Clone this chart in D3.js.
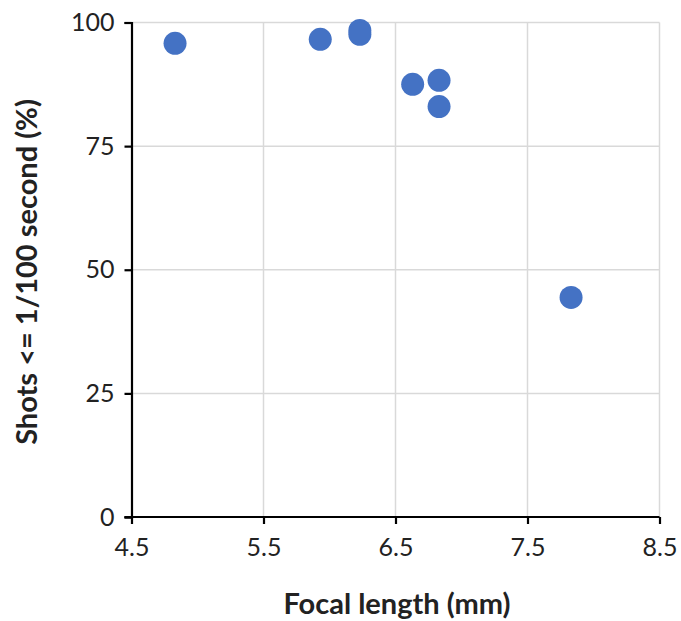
<!DOCTYPE html>
<html><head><meta charset="utf-8">
<script src="https://cdn.jsdelivr.net/npm/d3@7"></script>
<style>body{margin:0;background:#fff;} svg{display:block;}</style>
</head><body>
<script>
const focalLength = [4.83, 5.93, 6.23, 6.23, 6.63, 6.83, 6.83, 7.83];
const shotsPct   = [95.8, 96.6, 98.4, 97.6, 87.5, 88.3, 83.0, 44.4];
const xTicks = [4.5, 5.5, 6.5, 7.5, 8.5];
const yTicks = [0, 25, 50, 75, 100];
const xTitle = "Focal length (mm)";
const yTitle = "Shots <= 1/100 second (%)";

const W = 681, H = 621;
const m = {left:131.5, right:W-659.5, top:22.5, bottom:H-517};
const font = "Lato, 'Open Sans', sans-serif";

const svg = d3.select("body").append("svg").attr("width", W).attr("height", H);
const x = d3.scaleLinear().domain([4.5, 8.5]).range([m.left, W-m.right]);
const y = d3.scaleLinear().domain([0, 100]).range([H-m.bottom, m.top]);

// gridlines
svg.append("g").selectAll("line").data(yTicks.filter(d=>d>0)).join("line")
  .attr("x1", x(4.5)).attr("x2", x(8.5)).attr("y1", d=>y(d)).attr("y2", d=>y(d))
  .attr("stroke", "#d9d9d9").attr("stroke-width", 1.5);
svg.append("g").selectAll("line").data(xTicks.filter(d=>d>4.5)).join("line")
  .attr("y1", y(0)).attr("y2", y(100)).attr("x1", d=>x(d)).attr("x2", d=>x(d))
  .attr("stroke", "#d9d9d9").attr("stroke-width", 1.5);

// axes
const xAxis = svg.append("g").attr("transform", `translate(0,${y(0)})`)
  .call(d3.axisBottom(x).tickValues(xTicks).tickFormat(d3.format(".1f")).tickSizeOuter(0).tickSize(7).tickPadding(14));
const yAxis = svg.append("g").attr("transform", `translate(${x(4.5)},0)`)
  .call(d3.axisLeft(y).tickValues(yTicks).tickSizeOuter(0).tickSize(7).tickPadding(10));
[xAxis, yAxis].forEach(a => {
  a.select(".domain").attr("stroke", "#000").attr("stroke-width", 2.2);
  a.selectAll(".tick line").attr("stroke", "#000").attr("stroke-width", 2.2);
  a.selectAll("text").attr("font-family", font).attr("font-size", 25).attr("fill", "#222");
});
xAxis.select(".domain").attr("d", `M${x(4.5)-7},0H${x(8.5)}`);

// points
svg.append("g").selectAll("circle").data(focalLength.map((f,i)=>[f, shotsPct[i]])).join("circle")
  .attr("cx", d=>x(d[0])).attr("cy", d=>y(d[1])).attr("r", 11.5)
  .attr("fill", "#4472C4");

// titles
svg.append("text").attr("x", 397).attr("y", 614)
  .attr("text-anchor", "middle").attr("font-family", font).attr("font-size", 29)
  .attr("font-weight", "bold").attr("fill", "#222").text(xTitle);
svg.append("text").attr("transform", `translate(37,${272}) rotate(-90)`)
  .attr("text-anchor", "middle").attr("font-family", font).attr("font-size", 29)
  .attr("font-weight", "bold").attr("fill", "#222").text(yTitle);
</script>
</body></html>
